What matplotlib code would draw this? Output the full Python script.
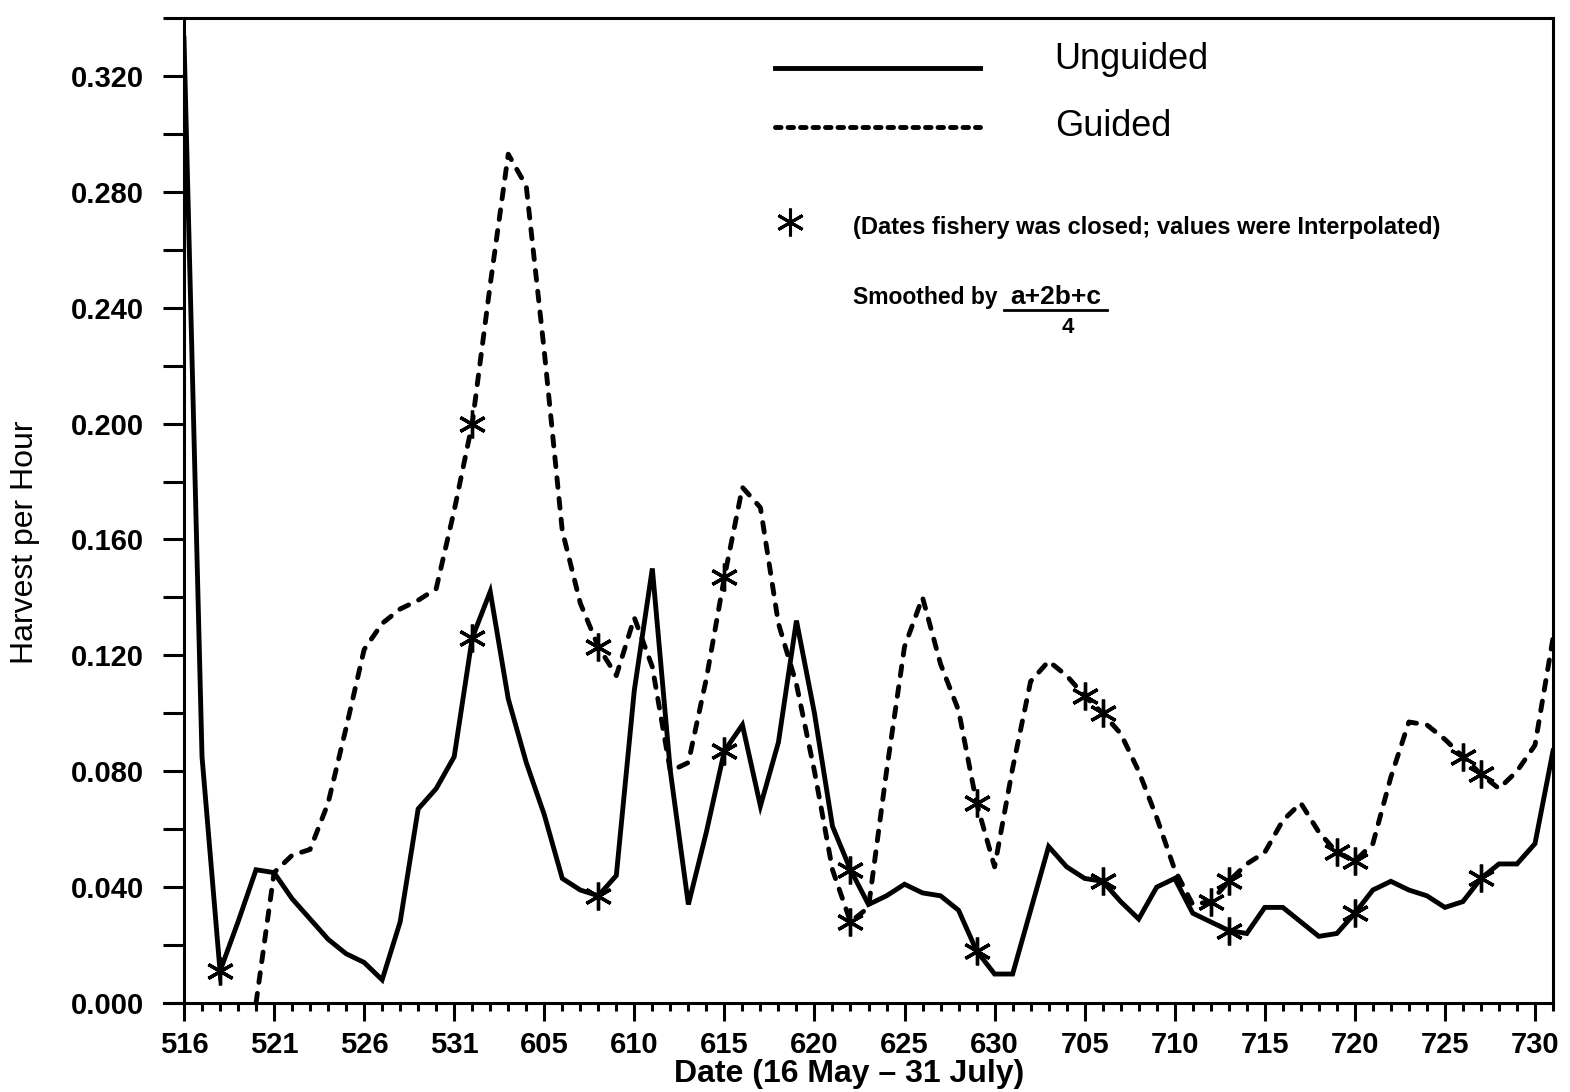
import numpy as np
import matplotlib
matplotlib.use("Agg")
import matplotlib.pyplot as plt
from matplotlib.ticker import FixedLocator, MultipleLocator, FuncFormatter

plt.rcParams['font.family'] = ['Liberation Sans', 'DejaVu Sans']
plt.rcParams['lines.scale_dashes'] = False

# day index 0 = 16 May ... 76 = 31 July
days = np.arange(77)

unguided = [0.333, 0.085, 0.011, 0.028, 0.046, 0.045, 0.036, 0.029, 0.022, 0.017,
            0.014, 0.008, 0.028, 0.067, 0.074, 0.085, 0.126, 0.142, 0.105, 0.083,
            0.065, 0.043, 0.039, 0.037, 0.044, 0.108, 0.150, 0.080, 0.034, 0.059,
            0.087, 0.096, 0.068, 0.090, 0.132, 0.100, 0.061, 0.046, 0.034, 0.037,
            0.041, 0.038, 0.037, 0.032, 0.018, 0.010, 0.010, 0.032, 0.054, 0.047,
            0.043, 0.042, 0.035, 0.029, 0.040, 0.043, 0.031, 0.028, 0.025, 0.024,
            0.033, 0.033, 0.028, 0.023, 0.024, 0.031, 0.039, 0.042, 0.039, 0.037,
            0.033, 0.035, 0.043, 0.048, 0.048, 0.055, 0.087]

nan = np.nan
guided = [nan, nan, nan, nan, 0.000, 0.045, 0.051, 0.053, 0.069, 0.095,
          0.122, 0.131, 0.136, 0.139, 0.143, 0.170, 0.200, 0.248, 0.293, 0.282,
          0.225, 0.163, 0.138, 0.123, 0.113, 0.133, 0.116, 0.080, 0.083, 0.112,
          0.147, 0.178, 0.171, 0.131, 0.110, 0.080, 0.046, 0.028, 0.033, 0.080,
          0.123, 0.140, 0.117, 0.101, 0.069, 0.047, 0.081, 0.111, 0.118, 0.113,
          0.106, 0.100, 0.093, 0.080, 0.064, 0.046, 0.034, 0.035, 0.042, 0.048,
          0.052, 0.063, 0.069, 0.059, 0.052, 0.049, 0.055, 0.078, 0.097, 0.096,
          0.091, 0.085, 0.079, 0.074, 0.080, 0.089, 0.126]

closed_unguided = [2, 16, 23, 30, 37, 44, 51, 58, 65, 72]
closed_guided = [16, 23, 30, 37, 44, 50, 51, 57, 58, 64, 65, 71, 72]

tick_days = [0, 5, 10, 15, 20, 25, 30, 35, 40, 45, 50, 55, 60, 65, 70, 75]
tick_labels = ['516', '521', '526', '531', '605', '610', '615', '620', '625',
               '630', '705', '710', '715', '720', '725', '730']

W, H = 1570, 1092
fig = plt.figure(figsize=(W / 100, H / 100), dpi=100)
ax = fig.add_axes([184 / W, 1 - 1003 / H, 1369 / W, 985 / H])

lw = 3.5
ax.plot(days, unguided, color='black', lw=lw, solid_joinstyle='miter', zorder=3)
ax.plot(days, guided, color='black', lw=lw, linestyle=(0, (7.0, 8.0)),
        dash_capstyle='round', zorder=3)

star = (6, 2, 0)
u = np.array(unguided)
g = np.array(guided)
ax.plot(closed_unguided, u[closed_unguided], linestyle='none', marker=star,
        markersize=20, mew=2.4, mec='black', color='black', zorder=4)
ax.plot(closed_guided, g[closed_guided], linestyle='none', marker=star,
        markersize=20, mew=2.4, mec='black', color='black', zorder=4)

ax.set_xlim(0, 76)
ax.set_ylim(0, 0.34)

ax.xaxis.set_major_locator(FixedLocator(tick_days))
ax.set_xticklabels(tick_labels)
ax.xaxis.set_minor_locator(MultipleLocator(1))
ax.yaxis.set_major_locator(MultipleLocator(0.04))
ax.yaxis.set_minor_locator(MultipleLocator(0.02))
ax.yaxis.set_major_formatter(FuncFormatter(lambda v, p: f"{v:.3f}"))
ax.set_yticks(np.arange(0, 0.33, 0.04))

ax.tick_params(axis='x', which='major', direction='out', length=13, width=2.2,
               labelsize=21, pad=7)
ax.tick_params(axis='x', which='minor', direction='out', length=6, width=2.2)
ax.tick_params(axis='y', which='both', direction='out', length=15, width=2.2,
               labelsize=21, pad=14)
for lab in ax.get_xticklabels() + ax.get_yticklabels():
    lab.set_fontweight('bold')

for s in ax.spines.values():
    s.set_linewidth(2.2)
ax.spines['bottom'].set_bounds(-1.1, 76)

# y and x labels
fig.text(25 / W, 1 - 542 / H, 'Harvest per Hour', rotation=90, ha='center',
         va='center', fontsize=23)
fig.text(849 / W, 1 - 1074 / H, 'Date (16 May \u2013 31 July)', ha='center',
         va='center', fontsize=23, fontweight='bold')

# legend block (axes coordinates)
T = ax.transAxes
ax.plot([0.4317, 0.5815], [0.949, 0.949], transform=T, color='black', lw=lw,
        clip_on=False)
ax.plot([0.4317, 0.5815], [0.889, 0.889], transform=T, color='black', lw=lw,
        linestyle=(0, (4.0, 5.0)), dash_capstyle='round', clip_on=False)
ax.text(0.636, 0.958, 'Unguided', transform=T, ha='left', va='center', fontsize=26)
ax.text(0.636, 0.890, 'Guided', transform=T, ha='left', va='center', fontsize=26)
ax.plot([0.4427], [0.793], transform=T, marker=star, markersize=20, mew=2.2,
        color='black', linestyle='none', clip_on=False)
ax.text(0.4887, 0.787, '(Dates fishery was closed; values were Interpolated)',
        transform=T, ha='left', va='center', fontsize=17, fontweight='bold')
ax.text(0.4887, 0.716, 'Smoothed by', transform=T, ha='left', va='center',
        fontsize=16.5, fontweight='bold')
ax.text(0.6365, 0.717, 'a+2b+c', transform=T, ha='center', va='center',
        fontsize=19, fontweight='bold')
ax.plot([0.599, 0.674], [0.7035, 0.7035], transform=T, color='black', lw=2.0)
ax.text(0.6457, 0.686, '4', transform=T, ha='center', va='center',
        fontsize=16, fontweight='bold')

fig.savefig('out.png', dpi=100)
